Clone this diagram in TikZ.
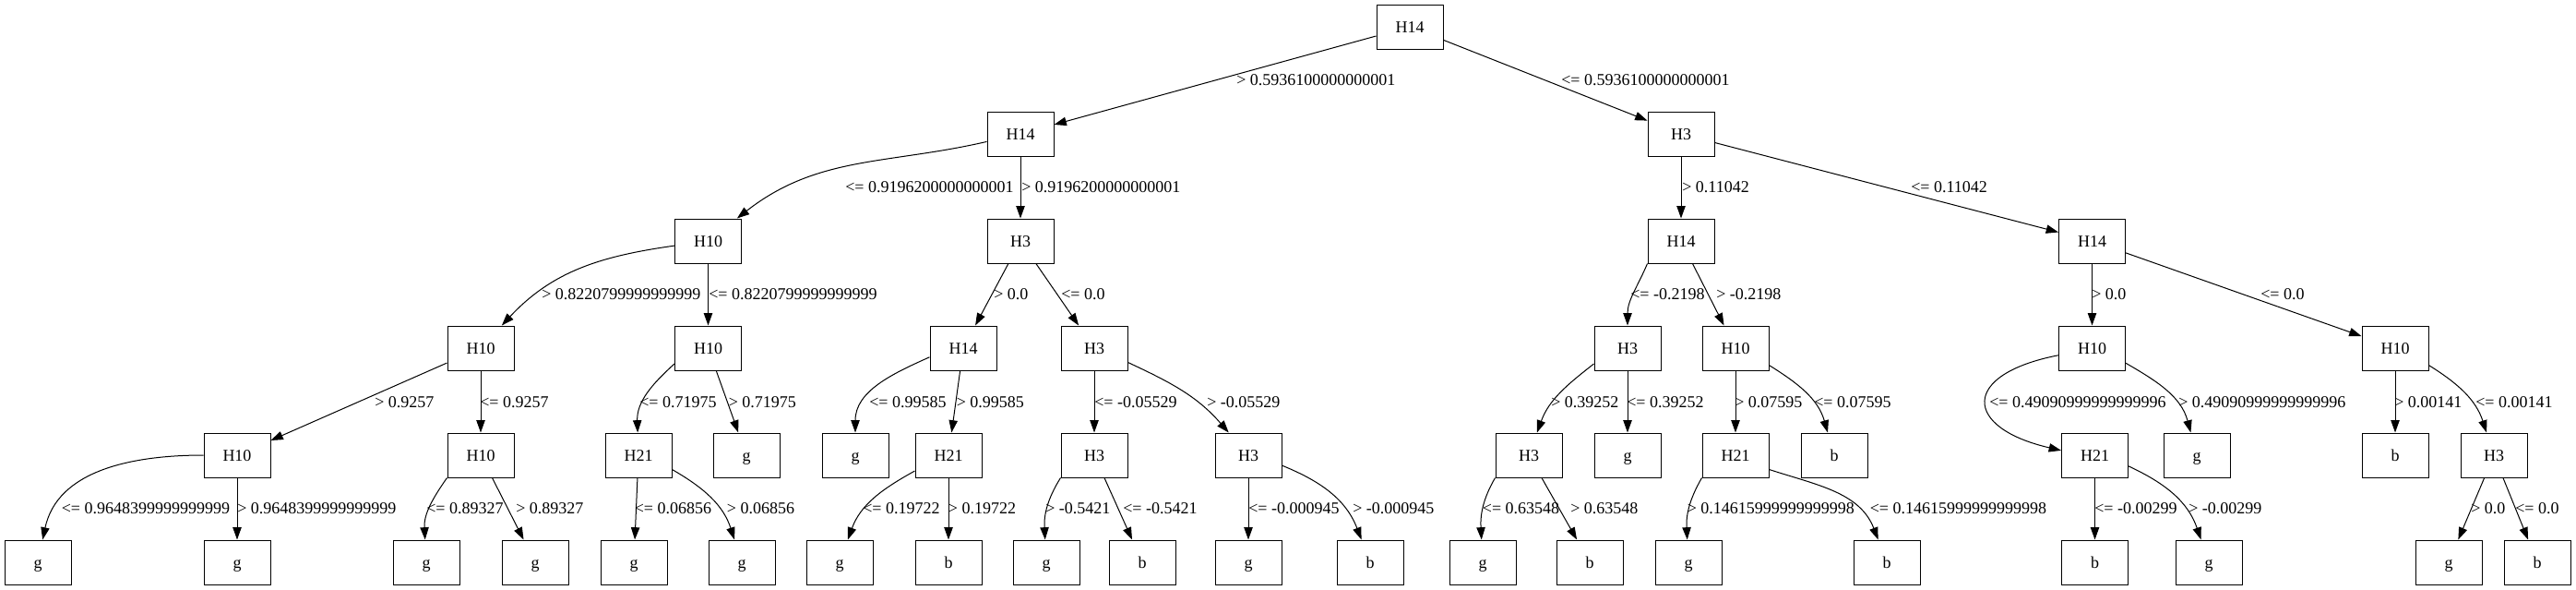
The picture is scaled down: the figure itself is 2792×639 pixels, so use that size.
\documentclass[tikz,border=0pt]{standalone}
\usepackage{fontspec}
\setmainfont{Liberation Serif}
\definecolor{ink}{HTML}{000000}
\usetikzlibrary{arrows.meta}
\tikzset{
  box/.style={draw=ink, line width=0.75pt, minimum width=54pt, minimum height=36pt, inner sep=0pt,
              text height=9.2pt, text depth=0pt},
  flow/.style={-{Triangle[length=10pt,width=7pt]}, line width=0.75pt, color=ink},
  lbl/.style={anchor=west, inner sep=0pt, text height=9.2pt, text depth=0pt, color=ink},
}
\begin{document}
\begin{tikzpicture}[x=0.75pt,y=0.75pt,font=\fontsize{13.5}{16}\selectfont]
\useasboundingbox (0,0) rectangle (2792,-639);
\node[box] (t) at (1528,-29) {H14};
\node[box] (tl) at (1106,-145) {H14};\node[box] (tr) at (1822,-145) {H3};
\node[box] (tll) at (767.5,-261) {H10};\node[box] (tlr) at (1106,-261) {H3};
\node[box] (trl) at (1822,-261) {H14};\node[box] (trr) at (2267.5,-261) {H14};
\node[box] (tlll) at (521,-377) {H10};\node[box] (tllr) at (767.5,-377) {H10};
\node[box] (tlrl) at (1044,-377) {H14};\node[box] (tlrr) at (1186,-377) {H3};
\node[box] (trll) at (1764,-377) {H3};\node[box] (trlr) at (1881,-377) {H10};
\node[box] (trrl) at (2267.5,-377) {H10};\node[box] (trrr) at (2596,-377) {H10};
\node[box] (tllll) at (257,-493) {H10};\node[box] (tlllr) at (521,-493) {H10};
\node[box] (tllrl) at (692,-493) {H21};\node[box] (tllrr) at (809,-493) {g};
\node[box] (tlrll) at (927,-493) {g};\node[box] (tlrlr) at (1028,-493) {H21};
\node[box] (tlrrl) at (1186,-493) {H3};\node[box] (tlrrr) at (1353,-493) {H3};
\node[box] (trlll) at (1657,-493) {H3};\node[box] (trllr) at (1764,-493) {g};
\node[box] (trlrl) at (1881,-493) {H21};\node[box] (trlrr) at (1988,-493) {b};
\node[box] (trrll) at (2270.5,-493) {H21};\node[box] (trrlr) at (2381,-493) {g};
\node[box] (trrrl) at (2596,-493) {b};\node[box] (trrrr) at (2703,-493) {H3};
\node[box] (tlllll) at (41,-609) {g};\node[box] (tllllr) at (257,-609) {g};
\node[box] (tlllrl) at (462,-609) {g};\node[box] (tlllrr) at (580,-609) {g};
\node[box] (tllrll) at (687,-609) {g};\node[box] (tllrlr) at (804,-609) {g};
\node[box] (tlrlrl) at (910,-609) {g};\node[box] (tlrlrr) at (1028,-609) {b};
\node[box] (tlrrll) at (1134,-609) {g};\node[box] (tlrrlr) at (1238,-609) {b};
\node[box] (tlrrrl) at (1353,-609) {g};\node[box] (tlrrrr) at (1485,-609) {b};
\node[box] (trllll) at (1607,-609) {g};\node[box] (trlllr) at (1723,-609) {b};
\node[box] (trlrll) at (1830,-609) {g};\node[box] (trlrlr) at (2045,-609) {b};
\node[box] (trrlll) at (2270.5,-609) {b};\node[box] (trrllr) at (2394,-609) {g};
\node[box] (trrrrl) at (2654,-609) {g};\node[box] (trrrrr) at (2750,-609) {b};
% edges
\draw[flow] (t) -- (tl);\draw[flow] (t) -- (tr);
\draw[flow] (tl) to[out=193,in=38] (tll);\draw[flow] (tl) -- (tlr);
\draw[flow] (tr) -- (trl);\draw[flow] (tr) -- (trr);
\draw[flow] (tll) to[out=188,in=47] (tlll);\draw[flow] (tll) -- (tllr);
\draw[flow] (tlr) -- (tlrl);\draw[flow] (tlr) -- (tlrr);
\draw[flow] (trl.south west) to[out=247,in=90] (trll);\draw[flow] (trl) -- (trlr);
\draw[flow] (trr) -- (trrl);\draw[flow] (trr) -- (trrr);
\draw[flow] (tlll) -- (tllll);\draw[flow] (tlll) -- (tlllr);
\draw[flow] (tllr.205) to[out=222,in=92] (tllrl);\draw[flow] (tllr) -- (tllrr);
\draw[flow] (tlrl.195) to[out=204,in=90] (tlrll);\draw[flow] (tlrl) -- (tlrlr);
\draw[flow] (tlrr) -- (tlrrl);\draw[flow] (tlrr.-23) to[out=-25,in=131] (tlrrr);
\draw[flow] (trll.205) to[out=218,in=70] (trlll);\draw[flow] (trll) -- (trllr);
\draw[flow] (trlr) -- (trlrl);\draw[flow] (trlr.-27) to[out=-32,in=106] (trlrr);
\draw[flow] (trrl.192) to[out=191,in=167,looseness=2.7] (trrll.172);
\draw[flow] (trrl.-24) to[out=-30,in=105] (trrlr);
\draw[flow] (trrr) -- (trrrl);\draw[flow] (trrr.-27) to[out=-32,in=108] (trrrr);
\draw[flow] (tllll) to[out=180,in=78] (tlllll);\draw[flow] (tllll) -- (tllllr);
\draw[flow] (tlllr.south west) to[out=235,in=93] (tlllrl);\draw[flow] (tlllr) -- (tlllrr);
\draw[flow] (tllrl) -- (tllrll);\draw[flow] (tllrl.-23) to[out=-30,in=108] (tllrlr);
\draw[flow] (tlrlr.205) to[out=209,in=70] (tlrlrl);\draw[flow] (tlrlr) -- (tlrlrr);
\draw[flow] (tlrrl.south west) to[out=238,in=93] (tlrrll);\draw[flow] (tlrrl) -- (tlrrlr);
\draw[flow] (tlrrr) -- (tlrrrl);\draw[flow] (tlrrr.-17) to[out=-22,in=111] (tlrrrr);
\draw[flow] (trlll.south west) to[out=240,in=93] (trllll);\draw[flow] (trlll) -- (trlllr);
\draw[flow] (trlrl.south west) to[out=240,in=93] (trlrll);
\draw[flow] (trlrl.-23) to[out=-18,in=111] (trlrlr);
\draw[flow] (trrll) -- (trrlll);\draw[flow] (trrll.-18) to[out=-25,in=109] (trrllr);
\draw[flow] (trrrr) -- (trrrrl);\draw[flow] (trrrr) -- (trrrrr);
% labels
\node[lbl] (qtl) at (1340,-86.7) {> 0.5936100000000001};
\node[lbl] (qtr) at (1692,-86.7) {<= 0.5936100000000001};
\node[lbl] (qtll) at (916,-202) {<= 0.9196200000000001};
\node[lbl] (qtlr) at (1107,-202) {> 0.9196200000000001};
\node[lbl] (qtrl) at (1823,-202) {> 0.11042};
\node[lbl] (qtrr) at (2071,-202) {<= 0.11042};
\node[lbl] (qtlll) at (587,-318) {> 0.8220799999999999};
\node[lbl] (qtllr) at (768,-318) {<= 0.8220799999999999};
\node[lbl] (qtlrl) at (1077,-318) {> 0.0};
\node[lbl] (qtlrr) at (1150,-318) {<= 0.0};
\node[lbl] (qtrll) at (1767,-318) {<= -0.2198};
\node[lbl] (qtrlr) at (1860,-318) {> -0.2198};
\node[lbl] (qtrrl) at (2267,-318) {> 0.0};
\node[lbl] (qtrrr) at (2450,-318) {<= 0.0};
\node[lbl] (qtllll) at (406,-435) {> 0.9257};
\node[lbl] (qtlllr) at (520,-435) {<= 0.9257};
\node[lbl] (qtllrl) at (693,-435) {<= 0.71975};
\node[lbl] (qtllrr) at (789.5,-435) {> 0.71975};
\node[lbl] (qtlrll) at (942,-435) {<= 0.99585};
\node[lbl] (qtlrlr) at (1036.5,-435) {> 0.99585};
\node[lbl] (qtlrrl) at (1186,-435) {<= -0.05529};
\node[lbl] (qtlrrr) at (1308,-435) {> -0.05529};
\node[lbl] (qtrlll) at (1681,-435) {> 0.39252};
\node[lbl] (qtrllr) at (1763,-435) {<= 0.39252};
\node[lbl] (qtrlrl) at (1880,-435) {> 0.07595};
\node[lbl] (qtrlrr) at (1966,-435) {<= 0.07595};
\node[lbl] (qtrrll) at (2156,-435) {<= 0.49090999999999996};
\node[lbl] (qtrrlr) at (2361,-435) {> 0.49090999999999996};
\node[lbl] (qtrrrl) at (2595,-435) {> 0.00141};
\node[lbl] (qtrrrr) at (2683,-435) {<= 0.00141};
\node[lbl] (qtlllll) at (66.5,-550) {<= 0.9648399999999999};
\node[lbl] (qtllllr) at (257,-550) {> 0.9648399999999999};
\node[lbl] (qtlllrl) at (462,-550) {<= 0.89327};
\node[lbl] (qtlllrr) at (559,-550) {> 0.89327};
\node[lbl] (qtllrll) at (687.5,-550) {<= 0.06856};
\node[lbl] (qtllrlr) at (787.6,-550) {> 0.06856};
\node[lbl] (qtlrlrl) at (935,-550) {<= 0.19722};
\node[lbl] (qtlrlrr) at (1027.6,-550) {> 0.19722};
\node[lbl] (qtlrrll) at (1133,-550) {> -0.5421};
\node[lbl] (qtlrrlr) at (1217,-550) {<= -0.5421};
\node[lbl] (qtlrrrl) at (1353,-550) {<= -0.000945};
\node[lbl] (qtlrrrr) at (1466,-550) {> -0.000945};
\node[lbl] (qtrllll) at (1606.6,-550) {<= 0.63548};
\node[lbl] (qtrlllr) at (1702,-550) {> 0.63548};
\node[lbl] (qtrlrll) at (1828.5,-550) {> 0.14615999999999998};
\node[lbl] (qtrlrlr) at (2026.5,-550) {<= 0.14615999999999998};
\node[lbl] (qtrrlll) at (2270,-550) {<= -0.00299};
\node[lbl] (qtrrllr) at (2372,-550) {> -0.00299};
\node[lbl] (qtrrrrl) at (2678,-550) {> 0.0};
\node[lbl] (qtrrrrr) at (2726,-550) {<= 0.0};
\end{tikzpicture}
\end{document}
